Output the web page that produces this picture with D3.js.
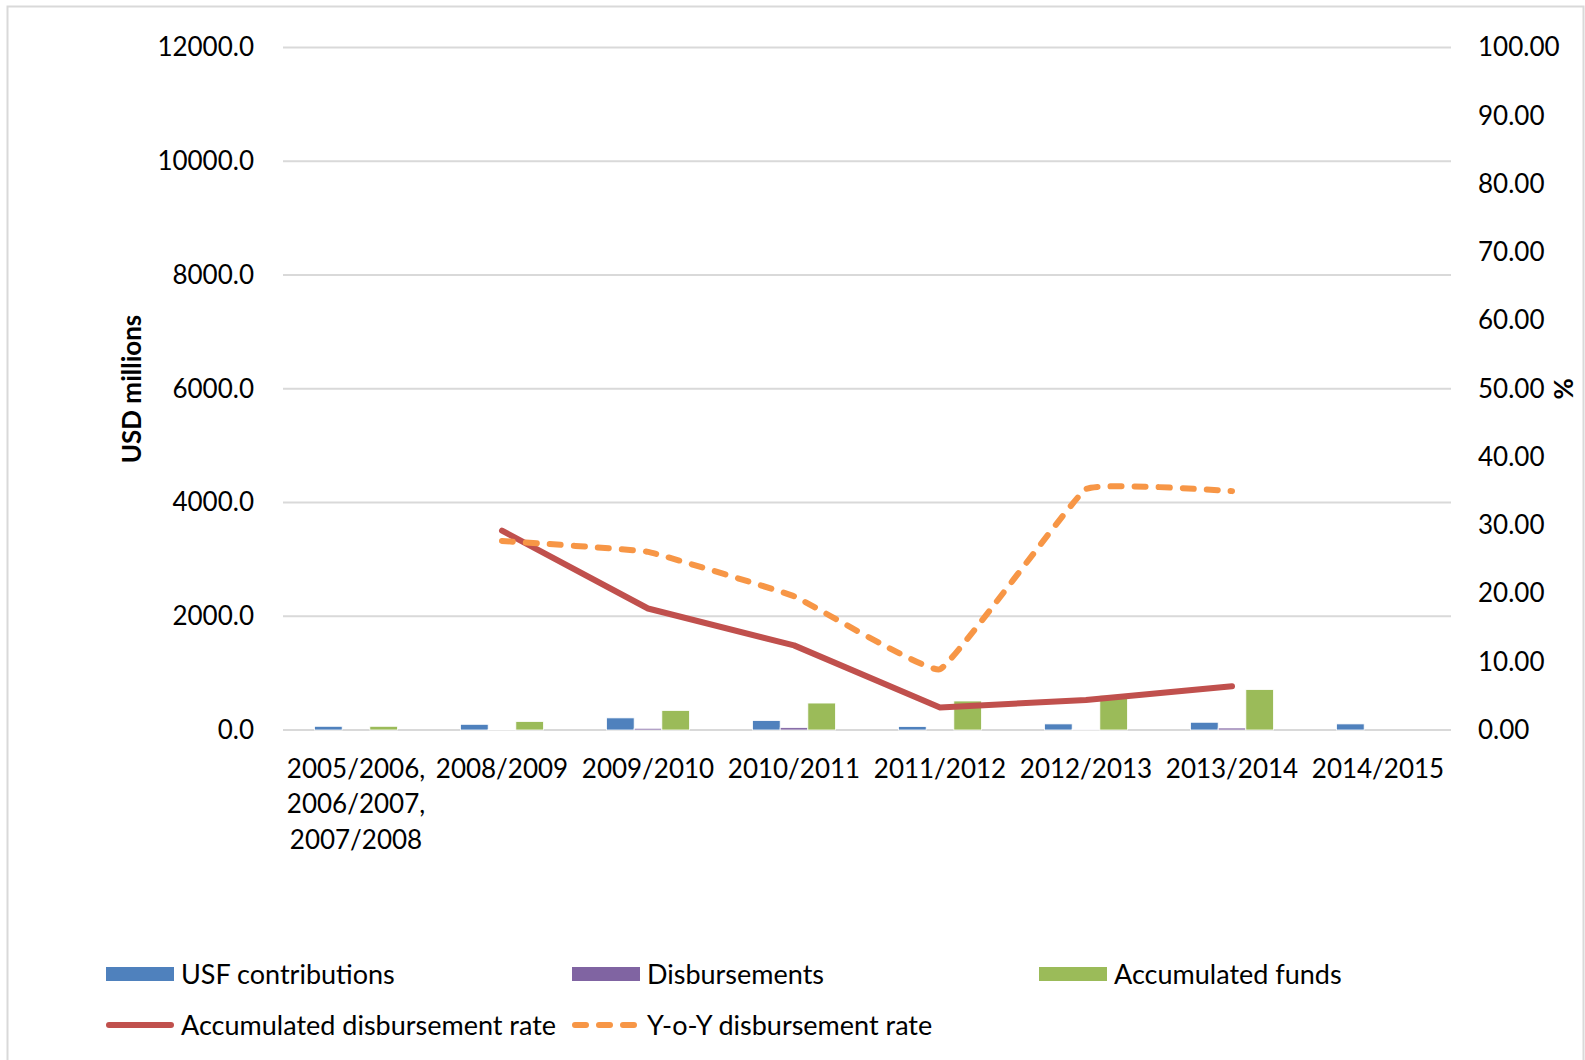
<!DOCTYPE html>
<html>
<head>
    <title>USF contributions and disbursements</title>
    <script src="https://d3js.org/d3.v7.min.js"></script>
    <style>
        body { margin: 0; background: #fff; }
        text { font-family: Lato, "Noto Sans", sans-serif; fill: #000; }
        .grid { stroke: #d9d9d9; stroke-width: 2px; }
    </style>
</head>
<body>
    <svg width="1585" height="1060"></svg>
    <script>
        // values
        var categories = ["2005/2006, 2006/2007, 2007/2008", "2008/2009", "2009/2010", "2010/2011",
                          "2011/2012", "2012/2013", "2013/2014", "2014/2015"];
        var usfContributions = [65, 100, 213, 166, 60, 107, 136, 107];
        var disbursements = [0, 8, 30, 41, 0, 15, 35, 0];
        var accumulatedFunds = [65, 150, 344, 474, 510, 610, 711, null];
        var accRate = [null, 29.2, 17.8, 12.4, 3.3, 4.4, 6.4, null];
        var yoyRate = [null, 27.7, 26.1, 19.6, 8.9, 35.3, 35.0, null];
        var leftTicks = [0, 2000, 4000, 6000, 8000, 10000, 12000];
        var rightTicks = [0, 10, 20, 30, 40, 50, 60, 70, 80, 90, 100];

        var barSeries = [
            { name: "USF contributions", values: usfContributions, color: "#4f81bd" },
            { name: "Disbursements", values: disbursements, color: "#8064a2" },
            { name: "Accumulated funds", values: accumulatedFunds, color: "#9bbb59" }
        ];
        var lineSeries = [
            { name: "Accumulated disbursement rate", values: accRate, color: "#c0504d", dash: null },
            { name: "Y-o-Y disbursement rate", values: yoyRate, color: "#f79646", dash: "11,13" }
        ];

        var svg = d3.select("svg");

        // chart frame
        svg.append("rect")
            .attr("x", 7.5).attr("y", 6.5)
            .attr("width", 1576).attr("height", 1070)
            .attr("fill", "none").attr("stroke", "#d9d9d9").attr("stroke-width", 2);

        var plotLeft = 283, plotRight = 1451, plotTop = 47.5, plotBottom = 730;

        var x = d3.scaleBand().domain(categories).range([plotLeft, plotRight]);
        var xSub = d3.scaleBand().domain(d3.range(barSeries.length))
            .range([-41.5, 41.5]);
        var yL = d3.scaleLinear().domain([0, 12000]).range([plotBottom, plotTop]);
        var yR = d3.scaleLinear().domain([0, 100]).range([plotBottom, plotTop]);

        // gridlines
        svg.append("g").selectAll("line")
            .data(leftTicks)
            .enter().append("line")
            .attr("class", "grid")
            .attr("x1", plotLeft).attr("x2", plotRight)
            .attr("y1", function(d) { return yL(d); })
            .attr("y2", function(d) { return yL(d); });

        // left axis
        var gl = svg.append("g")
            .attr("transform", "translate(254,0)")
            .call(d3.axisLeft(yL).tickValues(leftTicks).tickFormat(d3.format(".1f")).tickSize(0).tickPadding(0));
        gl.select(".domain").remove();
        gl.selectAll("text").style("font-size", "26px").style("font-family", "Lato");

        // right axis
        var gr = svg.append("g")
            .attr("transform", "translate(1478,0)")
            .call(d3.axisRight(yR).tickValues(rightTicks).tickFormat(d3.format(".2f")).tickSize(0).tickPadding(0));
        gr.select(".domain").remove();
        gr.selectAll("text").style("font-size", "26px").style("font-family", "Lato");

        // axis titles
        svg.append("text")
            .attr("transform", "translate(132,389) rotate(-90)")
            .attr("text-anchor", "middle").attr("dy", "0.36em")
            .style("font-size", "26px").style("font-weight", "bold")
            .text("USD millions");
        svg.append("text")
            .attr("transform", "translate(1563,389) rotate(90)")
            .attr("text-anchor", "middle").attr("dy", "0.36em")
            .style("font-size", "26px").style("font-weight", "bold")
            .text("%");

        // category labels, wrapped on spaces
        var cat = svg.append("g").selectAll("text")
            .data(categories)
            .enter().append("text")
            .attr("text-anchor", "middle")
            .style("font-size", "26px")
            .attr("x", function(d) { return x(d) + x.bandwidth() / 2; })
            .attr("y", 778);
        cat.each(function(d) {
            var t = d3.select(this), cx = x(d) + x.bandwidth() / 2;
            d.split(" ").forEach(function(w, i) {
                t.append("tspan").attr("x", cx).attr("dy", i ? 35.4 : 0).text(w);
            });
        });

        // bars
        barSeries.forEach(function(s, si) {
            svg.append("g").selectAll("rect")
                .data(categories.map(function(c, i) { return { c: c, v: s.values[i] }; })
                    .filter(function(d) { return d.v; }))
                .enter().append("rect")
                .attr("x", function(d) { return x(d.c) + x.bandwidth() / 2 + xSub(si); })
                .attr("width", xSub.bandwidth())
                .attr("y", function(d) { return yL(d.v); })
                .attr("height", function(d) { return yL(0) - yL(d.v); })
                .attr("fill", s.color)
                .attr("stroke", "#fff").attr("stroke-width", 0.8);
        });

        // lines on the right axis
        lineSeries.forEach(function(s) {
            var pts = categories.map(function(c, i) { return { c: c, v: s.values[i] }; })
                .filter(function(d) { return d.v != null; });
            var line = d3.line()
                .x(function(d) { return x(d.c) + x.bandwidth() / 2; })
                .y(function(d) { return yR(d.v); })
                .curve(s.dash ? d3.curveCardinal.tension(0.75) : d3.curveLinear);
            svg.append("path")
                .datum(pts)
                .attr("d", line)
                .attr("fill", "none")
                .attr("stroke", s.color)
                .attr("stroke-width", 6)
                .attr("stroke-linecap", "round")
                .attr("stroke-linejoin", "round")
                .attr("stroke-dasharray", s.dash);
        });

        // legend
        var legendItems = [
            { s: barSeries[0], type: "bar", x: 106, y: 974 },
            { s: barSeries[1], type: "bar", x: 572, y: 974 },
            { s: barSeries[2], type: "bar", x: 1039, y: 974 },
            { s: lineSeries[0], type: "line", x: 106, y: 1025 },
            { s: lineSeries[1], type: "line", x: 572, y: 1025 }
        ];
        var lg = svg.append("g").selectAll("g")
            .data(legendItems)
            .enter().append("g")
            .attr("transform", function(d) { return "translate(" + d.x + "," + d.y + ")"; });
        lg.filter(function(d) { return d.type === "bar"; })
            .append("rect")
            .attr("x", 0).attr("y", -7).attr("width", 68).attr("height", 14)
            .attr("fill", function(d) { return d.s.color; });
        lg.filter(function(d) { return d.type === "line"; })
            .append("line")
            .attr("x1", 3).attr("x2", 65).attr("y1", 0).attr("y2", 0)
            .attr("stroke", function(d) { return d.s.color; })
            .attr("stroke-width", 6)
            .attr("stroke-linecap", "round")
            .attr("stroke-dasharray", function(d) { return d.s.dash; });
        lg.append("text")
            .attr("x", 75).attr("y", 9.5)
            .style("font-size", "27px")
            .text(function(d) { return d.s.name; });
    </script>
</body>
</html>
